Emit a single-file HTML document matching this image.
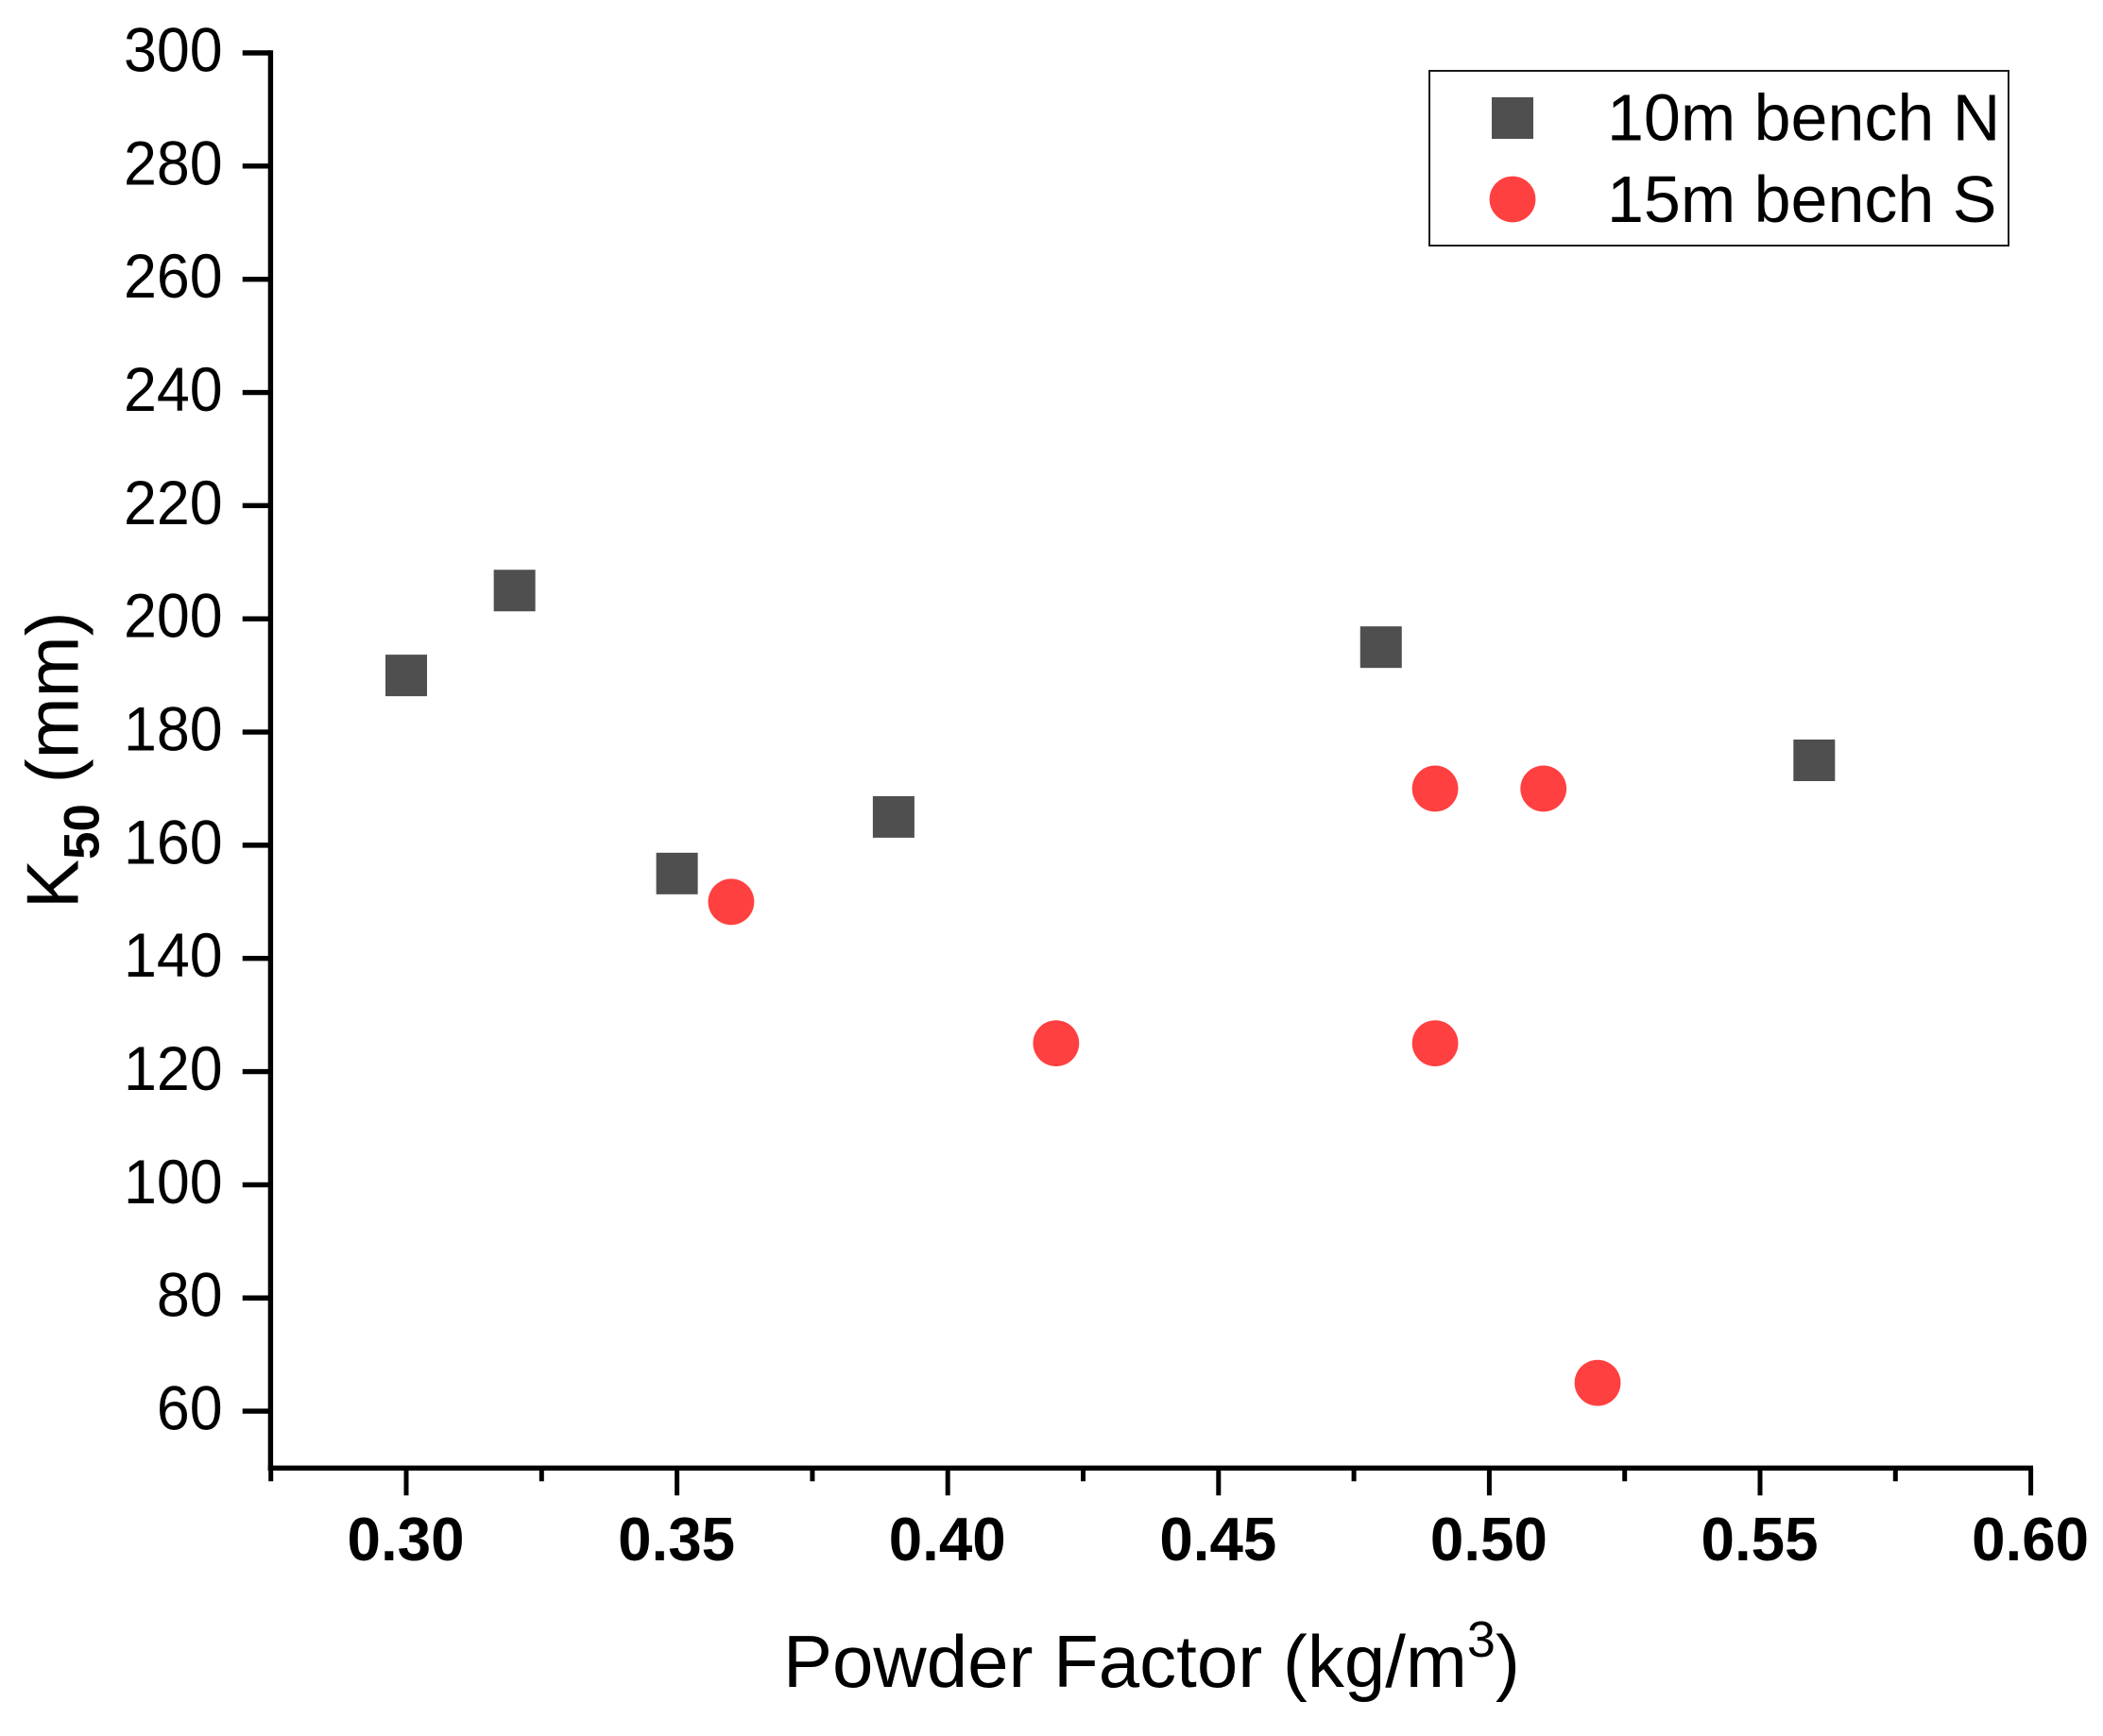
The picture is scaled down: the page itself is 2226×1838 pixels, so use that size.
<!DOCTYPE html>
<html lang="en">
<head>
<meta charset="utf-8">
<title>K50 vs Powder Factor</title>
<style>
html,body{margin:0;padding:0;background:#fff;}
svg{display:block;}
text{font-family:"Liberation Sans",Arial,sans-serif;fill:#000;}
</style>
</head>
<body>
<svg id="chart" xmlns="http://www.w3.org/2000/svg" width="2226" height="1838" viewBox="0 0 2226 1838">
  <rect x="0" y="0" width="2226" height="1838" fill="#fff"/>
  <g id="axes"></g>
  <g id="marks"></g>
  <text x="829" y="1786" font-size="78">Powder Factor (kg/m<tspan font-size="54" dy="-32">3</tspan><tspan dy="32">)</tspan></text>
  <text transform="translate(82.7,962) rotate(-90)" font-size="78">K<tspan font-size="53" font-weight="bold" dy="22">50</tspan><tspan dy="-22"> (mm)</tspan></text>
  <g>
    <rect x="1513" y="75" width="613" height="185" fill="#fff" stroke="#1a1a1a" stroke-width="2"/>
    <rect x="1579" y="103" width="44" height="44" fill="#4f4f4f"/>
    <text x="1701" y="148.5" font-size="70">10m bench N</text>
    <circle cx="1601" cy="211" r="24.4" fill="#ff4040"/>
    <text x="1701" y="235" font-size="70">15m bench S</text>
  </g>
</svg>
<script>
const xMajorTicks = [0.30, 0.35, 0.40, 0.45, 0.50, 0.55, 0.60];
const xMajorLabels = ["0.30", "0.35", "0.40", "0.45", "0.50", "0.55", "0.60"];
const xMinorTicks = [0.275, 0.325, 0.375, 0.425, 0.475, 0.525, 0.575];
const yTicks = [60, 80, 100, 120, 140, 160, 180, 200, 220, 240, 260, 280, 300];
const yTickLabels = ["60", "80", "100", "120", "140", "160", "180", "200", "220", "240", "260", "280", "300"];
const benchNX = [0.30, 0.32, 0.35, 0.39, 0.48, 0.56];
const benchNY = [190, 205, 155, 165, 195, 175];
const benchSX = [0.36, 0.42, 0.49, 0.49, 0.51, 0.52];
const benchSY = [150, 125, 170, 125, 170, 65];

const SVGNS = 'http://www.w3.org/2000/svg';
const xAt = v => 430 + (v - 0.30) / 0.05 * 286.6;
const yAt = v => 56 + (300 - v) * 5.992;
const axes = document.getElementById('axes');
const marks = document.getElementById('marks');

function line(x1, y1, x2, y2, w) {
  const l = document.createElementNS(SVGNS, 'line');
  l.setAttribute('x1', x1);
  l.setAttribute('y1', y1);
  l.setAttribute('x2', x2);
  l.setAttribute('y2', y2);
  l.setAttribute('stroke', '#000');
  l.setAttribute('stroke-width', w);
  axes.appendChild(l);
  return l;
}
function label(x, y, s, anchor, bold, size, sx) {
  const t = document.createElementNS(SVGNS, 'text');
  t.setAttribute('transform', 'translate(' + x + ',' + y + ') scale(' + sx + ',1)');
  t.setAttribute('font-size', size);
  t.setAttribute('text-anchor', anchor);
  if (bold) t.setAttribute('font-weight', 'bold');
  t.textContent = s;
  axes.appendChild(t);
  return t;
}

const ySpine = line(286.4, 53.3, 286.4, 1557, 5.4);


const xSpine = line(283.7, 1554.3, 2152, 1554.3, 5.4);



yTicks.forEach((v, i) => {
  const tick = line(256.7, yAt(v), 286, yAt(v), 5.4);
  
  
  const t = label(235.6, yAt(v) + 19.5, yTickLabels[i], 'end', false, 66, 0.95);
  
  
});
xMajorTicks.forEach((v, i) => {
  const tick = line(xAt(v), 1554, xAt(v), 1583.3, 5);
  
  
  const t = label(xAt(v) - 0.5, 1652, xMajorLabels[i], 'middle', true, 65, 0.98);
  
  
});
xMinorTicks.forEach(v => {
  const tick = line(xAt(v), 1554, xAt(v), 1568.3, 5);
  
  
});

benchNX.forEach((v, i) => {
  const r = document.createElementNS(SVGNS, 'rect');
  r.setAttribute('x', xAt(v) - 22);
  r.setAttribute('y', yAt(benchNY[i]) - 22);
  r.setAttribute('width', 44);
  r.setAttribute('height', 44);
  r.setAttribute('fill', '#4f4f4f');
  
  
  marks.appendChild(r);
});
benchSX.forEach((v, i) => {
  const c = document.createElementNS(SVGNS, 'circle');
  c.setAttribute('cx', xAt(v));
  c.setAttribute('cy', yAt(benchSY[i]));
  c.setAttribute('r', 24.4);
  c.setAttribute('fill', '#ff4040');
  
  
  marks.appendChild(c);
});
</script>
</body>
</html>
